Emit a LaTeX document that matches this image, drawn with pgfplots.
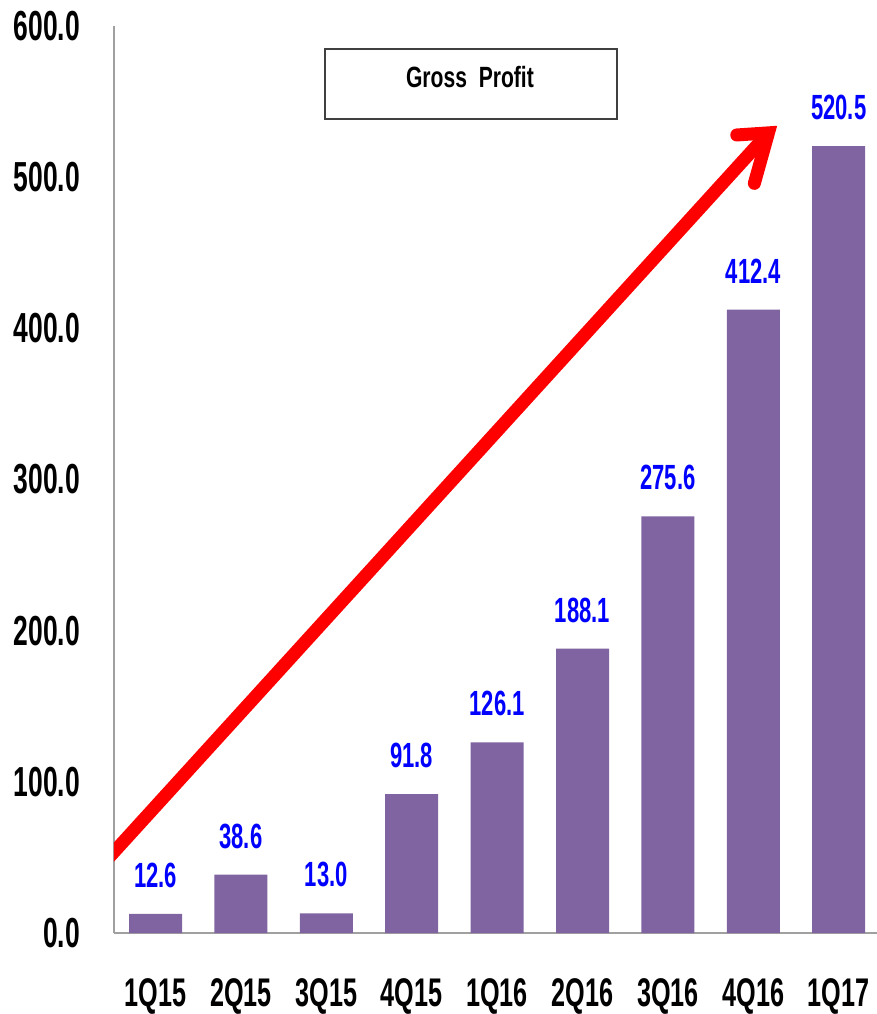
\documentclass[border=0pt]{standalone}
\usepackage{pgfplots}
\pgfplotsset{compat=1.18}
\usepackage{fontspec}
\setmainfont{Liberation Sans}
\newfontfamily\tickfont{Liberation Sans}[FakeStretch=0.63]
\newfontfamily\titlefont{Liberation Sans}[FakeStretch=0.72]
\definecolor{barc}{RGB}{128,100,162}
\definecolor{axc}{RGB}{160,160,160}
\definecolor{boxc}{RGB}{64,64,64}
\begin{document}
\begin{tikzpicture}
\begin{axis}[
  scale only axis,
  width=763pt, height=907pt,
  xmin=-0.486, xmax=8.448,
  ymin=0, ymax=600,
  axis x line=bottom, axis y line=left,
  axis line style={-, draw=axc, line width=1.5pt},
  major tick length=0pt,
  xtick={0,1,2,3,4,5,6,7,8},
  xticklabels={1Q15,2Q15,3Q15,4Q15,1Q16,2Q16,3Q16,4Q16,1Q17},
  ytick={0,100,200,300,400,500,600},
  /pgf/number format/assume math mode=true,
  yticklabel style={/pgf/number format/fixed, /pgf/number format/fixed zerofill, /pgf/number format/precision=1},
  yticklabel style={anchor=east, inner sep=0pt, xshift=-34pt, font=\fontsize{42}{48}\tickfont\bfseries},
  xticklabel style={anchor=north, inner sep=0pt, yshift=-45pt, font=\fontsize{40}{46}\tickfont\bfseries},
  ybar, bar width=53pt,
  nodes near coords,
  nodes near coords style={/pgf/number format/fixed, /pgf/number format/fixed zerofill, /pgf/number format/precision=1},
  every node near coord/.append style={anchor=south, inner sep=0pt, yshift=26pt, text=blue, font=\fontsize{35}{40}\tickfont\bfseries},
]
\addplot[draw=none, fill=barc] coordinates {
  (0,12.6) (1,38.6) (2,13.0) (3,91.8) (4,126.1) (5,188.1) (6,275.6) (7,412.4) (8,520.5)
};
\coordinate (SW) at (rel axis cs:0,0);
% title box
\node[draw=boxc, line width=2pt, minimum width=292pt, minimum height=70pt, inner sep=0pt, fill=white] at (axis cs:3.694,561.6) {};
\node[inner sep=0pt, font=\fontsize{29.3}{34}\titlefont\bfseries] at (axis cs:3.682,566.0) {Gross\ \ Profit};
% trend arrow
\draw[red, line width=13pt, line cap=butt] (axis cs:-0.813,33.3) -- (axis cs:7.177,529.3);
\draw[red, line width=13pt, line cap=round, line join=miter] (axis cs:6.806,527.9) -- (axis cs:7.177,529.3) -- (axis cs:7.012,495.9);
\end{axis}
\pgfresetboundingbox
\path[use as bounding box] ([shift={(-114pt,-81pt)}]SW) rectangle ([shift={(763pt,933pt)}]SW);
\end{tikzpicture}
\end{document}
